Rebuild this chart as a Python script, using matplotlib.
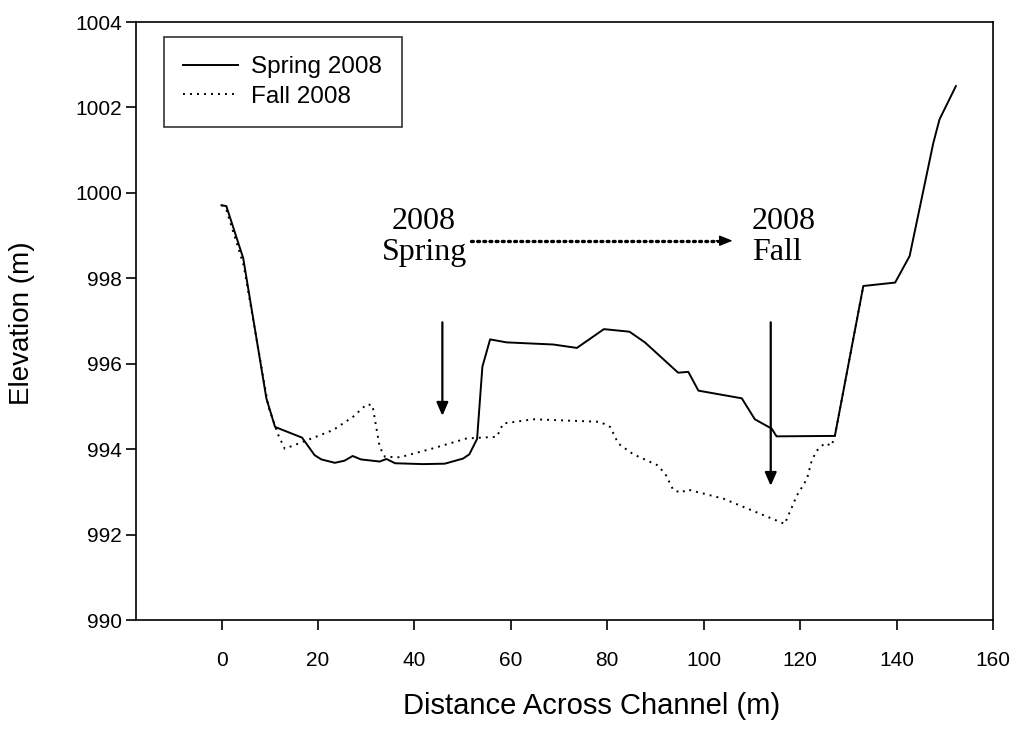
import matplotlib
matplotlib.use("Agg")
import matplotlib.pyplot as plt

spring_x = [0, 1.0, 4.5, 9.3, 11.1, 16.7, 19.3, 20.7, 23.5, 25.5, 27.2, 28.9, 32.8, 34.2, 36.0,
            41.8, 46.3, 50.1, 51.4, 53.0, 54.1, 55.7, 59.1, 68.8, 73.7, 79.3, 84.6, 87.8, 94.7,
            96.8, 98.9, 107.9, 110.6, 114.1, 115.1, 127.2, 133.1, 139.7, 142.7, 147.6, 148.9, 152.3]
spring_y = [999.71, 999.69, 998.47, 995.19, 994.52, 994.27, 993.86, 993.76, 993.68, 993.73,
            993.84, 993.76, 993.71, 993.77, 993.67, 993.65, 993.66, 993.78, 993.88, 994.24,
            995.93, 996.57, 996.50, 996.45, 996.37, 996.81, 996.75, 996.50, 995.79, 995.81,
            995.37, 995.19, 994.70, 994.48, 994.30, 994.31, 997.82, 997.90, 998.52, 1001.16,
            1001.72, 1002.50]

fall_x = [0, 1.0, 4.6, 9.7, 11.7, 13.1, 16.4, 23.2, 27.3, 30.1, 31.3, 32.8, 33.9, 37.0, 43.9,
          50.8, 57.1, 58.4, 64.6, 78.5, 80.6, 82.3, 85.4, 90.3, 92.0, 93.7, 95.4, 96.5, 104.1,
          116.8, 119.3, 121.4, 122.4, 123.4, 125.1, 126.5, 127.2, 133.1]
fall_y = [999.72, 999.6, 998.3, 995.0, 994.35, 994.01, 994.15, 994.45, 994.76, 995.05, 995.03,
          994.05, 993.82, 993.81, 994.02, 994.25, 994.29, 994.60, 994.70, 994.64, 994.52, 994.13,
          993.88, 993.63, 993.43, 993.04, 992.98, 993.06, 992.84, 992.25, 992.91, 993.3, 993.73,
          993.96, 994.14, 994.08, 994.31, 997.82]

x_ticks = [0, 20, 40, 60, 80, 100, 120, 140, 160]
y_ticks = [990, 992, 994, 996, 998, 1000, 1002, 1004]

plt.rcParams['font.family'] = ['Liberation Sans', 'DejaVu Sans']

fig = plt.figure(figsize=(10.21, 7.29), dpi=100)
ax = fig.add_axes([0.1329, 0.1495, 0.9726 - 0.1329, 0.9698 - 0.1495])

ax.plot(spring_x, spring_y, color='black', lw=1.4, ls='-', label='Spring 2008')
ax.plot(fall_x, fall_y, color='black', lw=1.4, ls=(0, (1, 2.6)), label='Fall 2008')

ax.set_xlim(-17.8, 160)
ax.set_ylim(990, 1004)
ax.set_xticks(x_ticks)
ax.set_yticks(y_ticks)
ax.tick_params(direction='out', length=7.5, width=1.2, labelsize=15)
ax.tick_params(axis='y', pad=2.5)
ax.tick_params(axis='x', pad=15)
for s in ax.spines.values():
    s.set_linewidth(1.2)

ax.set_xlabel('Distance Across Channel (m)', fontsize=21, va='center')
ax.xaxis.set_label_coords(0.532, -0.1438)
ax.set_ylabel('Elevation (m)', fontsize=20, va='center')
ax.yaxis.set_label_coords(-0.133, 0.497)

leg = ax.legend(loc='upper left', bbox_to_anchor=(0.033, 0.975), fontsize=17.5, frameon=True,
                fancybox=False, edgecolor='black', handlelength=2.25, borderpad=0.8,
                labelspacing=0.3, handletextpad=0.55, borderaxespad=0)
leg.get_frame().set_linewidth(1.2)

serif = ['Liberation Serif', 'DejaVu Serif']
ax.text(42.0, 998.97, '2008\nSpring', family=serif, fontsize=23, ha='center', va='center',
        linespacing=1.1)
ax.text(110.0, 998.97, '2008\nFall', family=serif, fontsize=23, ha='left', va='center',
        linespacing=1.1)

ax.plot([51.7, 103.0], [998.88, 998.88], color='black', lw=2.4, ls=(0, (0.55, 1.3)),
        dash_capstyle='round')
ax.annotate('', xy=(106.0, 998.88), xytext=(102.6, 998.88),
            arrowprops=dict(arrowstyle='-|>,head_length=0.8,head_width=0.32', color='black',
                            lw=1.0, shrinkA=0, shrinkB=0))
ax.annotate('', xy=(45.8, 994.78), xytext=(45.8, 996.97),
            arrowprops=dict(arrowstyle='-|>,head_length=0.8,head_width=0.35', color='black',
                            lw=1.6, shrinkA=0, shrinkB=0))
ax.annotate('', xy=(113.9, 993.14), xytext=(113.9, 996.97),
            arrowprops=dict(arrowstyle='-|>,head_length=0.8,head_width=0.35', color='black',
                            lw=1.6, shrinkA=0, shrinkB=0))

fig.savefig('out.png', dpi=100)
